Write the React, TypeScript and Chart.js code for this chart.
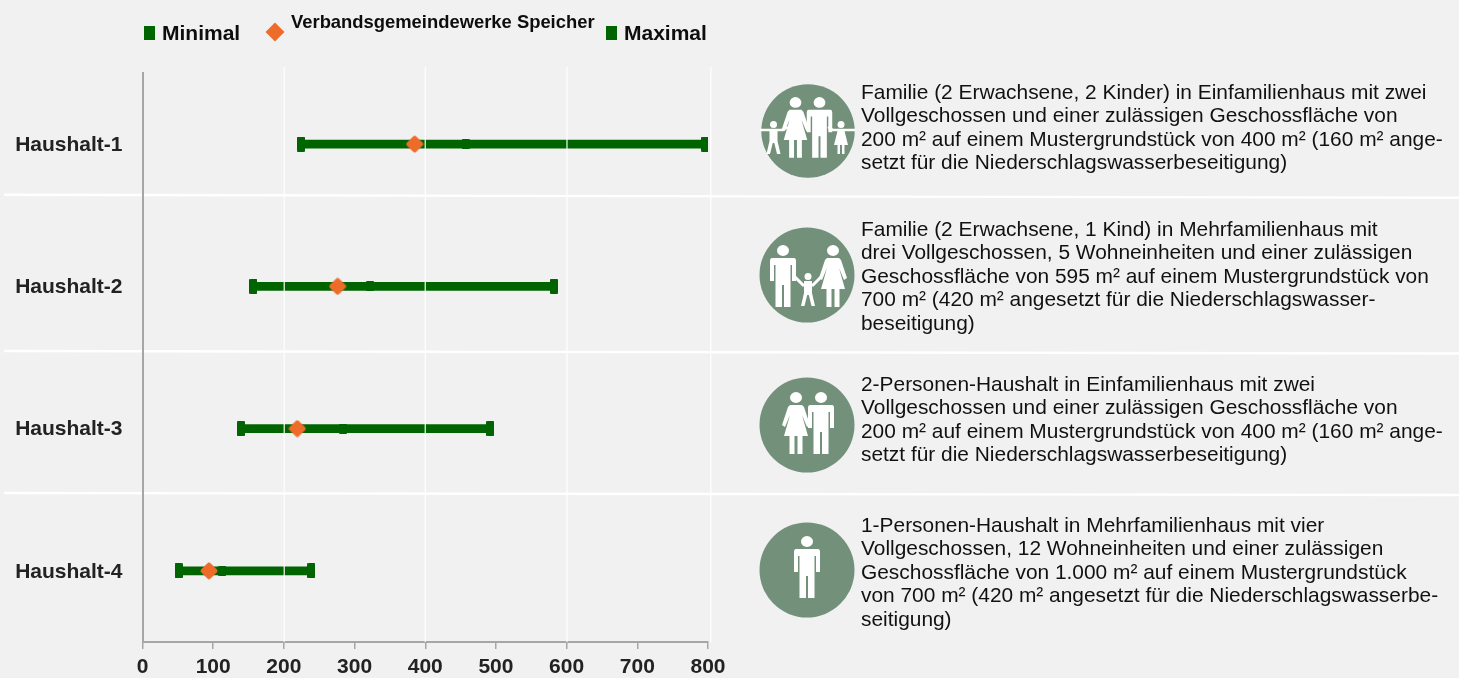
import React, { useEffect, useRef } from "react";
import { Chart, registerables } from "chart.js";

Chart.register(...registerables);

const categories = ["Haushalt-1", "Haushalt-2", "Haushalt-3", "Haushalt-4"];
const minimalValues = [224, 157, 139, 51];
const maximalValues = [796, 582, 492, 239];
const speicherValues = [385, 276, 219, 94];
const middleValues = [457, 322, 284, 113];
const gridLineValues = [200.5, 400, 600.5, 804];

const descriptions = [
  ["Familie (2 Erwachsene, 2 Kinder) in Einfamilienhaus mit zwei", "Vollgeschossen und einer zulässigen Geschossfläche von", "200 m² auf einem Mustergrundstück von 400 m² (160 m² ange-", "setzt für die Niederschlagswasserbeseitigung)"],
  ["Familie (2 Erwachsene, 1 Kind) in Mehrfamilienhaus mit", "drei Vollgeschossen, 5 Wohneinheiten und einer zulässigen", "Geschossfläche von 595 m² auf einem Mustergrundstück von", "700 m² (420 m² angesetzt für die Niederschlagswasser-", "beseitigung)"],
  ["2-Personen-Haushalt in Einfamilienhaus mit zwei", "Vollgeschossen und einer zulässigen Geschossfläche von", "200 m² auf einem Mustergrundstück von 400 m² (160 m² ange-", "setzt für die Niederschlagswasserbeseitigung)"],
  ["1-Personen-Haushalt in Mehrfamilienhaus mit vier", "Vollgeschossen, 12 Wohneinheiten und einer zulässigen", "Geschossfläche von 1.000 m² auf einem Mustergrundstück", "von 700 m² (420 m² angesetzt für die Niederschlagswasserbe-", "seitigung)"],
];
const descriptionTops = [80, 217, 372, 513];

const GREEN = "#006400";
const ORANGE = "#ee6c2a";
const BG = "#f1f1f1";
const ICON = "#72907a";
const FONT = '"Liberation Sans", Arial, sans-serif';

function marker(w: number, h: number) {
  const c = document.createElement("canvas");
  c.width = w;
  c.height = h;
  const g = c.getContext("2d")!;
  g.fillStyle = GREEN;
  g.beginPath();
  g.roundRect(0, 0, w, h, 1);
  g.fill();
  return c;
}

function roundDiamond() {
  const c = document.createElement("canvas");
  c.width = 18;
  c.height = 18;
  const g = c.getContext("2d")!;
  g.fillStyle = ORANGE;
  g.strokeStyle = ORANGE;
  g.lineWidth = 4;
  g.lineJoin = "round";
  g.beginPath();
  g.moveTo(9, 2.6);
  g.lineTo(15.4, 9);
  g.lineTo(9, 15.4);
  g.lineTo(2.6, 9);
  g.closePath();
  g.fill();
  g.stroke();
  return c;
}

const gridPlugin = {
  id: "shiftedGrid",
  afterDatasetDraw(chart: any, args: any) {
    if (args.index !== 0) return;
    const { ctx, chartArea, scales } = chart;
    ctx.save();
    ctx.strokeStyle = "rgba(255,255,255,0.9)";
    ctx.lineWidth = 1.3;
    gridLineValues.forEach((v) => {
      const x = scales.x.getPixelForValue(v);
      ctx.beginPath();
      ctx.moveTo(x, chartArea.top - 6);
      ctx.lineTo(x, chartArea.bottom);
      ctx.stroke();
    });
    ctx.restore();
  },
};

const Man = ({ x, y, s = 1 }: { x: number; y: number; s?: number }) => (
  <g transform={`translate(${x} ${y}) scale(${s})`} fill="#fff">
    <ellipse cx="0" cy="5.5" rx="6" ry="5.4" />
    <path d="M-11,13 L11,13 Q13,13 13,16 L13,36 L9,36 L9,20 L7.5,20 L7.5,62 L1,62 L1,40 L-1,40 L-1,62 L-7.5,62 L-7.5,20 L-9,20 L-9,36 L-13,36 L-13,16 Q-13,13 -11,13Z" />
  </g>
);
const Woman = ({ x, y, s = 1 }: { x: number; y: number; s?: number }) => (
  <g transform={`translate(${x} ${y}) scale(${s})`} fill="#fff">
    <ellipse cx="0" cy="5.5" rx="6" ry="5.4" />
    <path d="M-6,13 L6,13 L8,15 L14,33 L11,35 L6,23 L12,44 L6.5,44 L6.5,62 L1.5,62 L1.5,44 L-1.5,44 L-1.5,62 L-6.5,62 L-6.5,44 L-12,44 L-6,23 L-11,35 L-14,33 L-8,15Z" />
  </g>
);
const Child = ({ x, y }: { x: number; y: number }) => (
  <g transform={`translate(${x} ${y})`} fill="#fff">
    <circle cx="0" cy="3.5" r="3.5" />
    <path d="M-4,8 L4,8 L4,20 L7,33 L3.5,33 L0.8,22 L-0.8,22 L-3.5,33 L-7,33 L-4,20Z" />
  </g>
);
const Girl = ({ x, y }: { x: number; y: number }) => (
  <g transform={`translate(${x} ${y})`} fill="#fff">
    <circle cx="0" cy="3.5" r="3.5" />
    <path d="M-3,8 L3,8 L7,24 L3.5,24 L3.5,33 L1,33 L1,24 L-1,24 L-1,33 L-3.5,33 L-3.5,24 L-7,24 L-3,8Z" />
  </g>
);

const iconCenters = [
  [807.8, 130.5, 46.7],
  [806.5, 274.5, 47.5],
  [806.5, 425, 47.5],
  [807, 570, 47.5],
];
const iconFigures = [
  <>
    <Woman x={-12.5} y={-34} s={0.98} />
    <Man x={11.5} y={-34} s={0.98} />
    <Child x={-34.5} y={-10} />
    <Girl x={33} y={-10} />
    <path d="M-48,-1 H-25 L-20,-4 M47,-1 H25 L20,-4" stroke="#fff" strokeWidth="2.5" fill="none" />
  </>,
  <>
    <Man x={-24} y={-30} />
    <Woman x={26} y={-30} />
    <Child x={1} y={-2} />
    <path d="M-12,2 L-3,11 M14,2 L5,11" stroke="#fff" strokeWidth="3" fill="none" />
  </>,
  <>
    <Woman x={-11} y={-33} />
    <Man x={14} y={-33} />
  </>,
  <Man x={0} y={-34} />,
];

export default function App() {
  const ref = useRef<HTMLCanvasElement>(null);

  useEffect(() => {
    const big = marker(8, 15);
    const small = marker(8, 10);
    const diamond = roundDiamond();
    const chart = new Chart(ref.current!, {
      type: "bar",
      data: {
        labels: categories,
        datasets: [
          {
            type: "bar",
            label: "Spanne",
            data: minimalValues.map((v, i) => [v, maximalValues[i]]),
            backgroundColor: GREEN,
            barThickness: 8,
            order: 4,
          },
          {
            type: "line",
            label: "Mitte",
            data: middleValues,
            showLine: false,
            pointStyle: small,
            order: 3,
          },
          {
            type: "line",
            label: "Minimal",
            data: minimalValues,
            showLine: false,
            pointStyle: big,
            order: 2,
          },
          {
            type: "line",
            label: "Maximal",
            data: maximalValues,
            showLine: false,
            pointStyle: big,
            order: 2,
          },
          {
            type: "line",
            label: "Verbandsgemeindewerke Speicher",
            data: speicherValues,
            showLine: false,
            pointStyle: diamond,
            order: 1,
          },
        ] as any,
      },
      plugins: [gridPlugin],
      options: {
        indexAxis: "y",
        animation: false,
        responsive: false,
        layout: { padding: { top: 73, right: 751, left: 0, bottom: 0 } },
        plugins: { legend: { display: false }, tooltip: { enabled: false } },
        scales: {
          x: {
            min: 0,
            max: 800,
            afterFit: (s: any) => {
              s.height = 36;
            },
            ticks: {
              stepSize: 100,
              autoSkip: false,
              maxRotation: 0,
              color: "#222",
              padding: 6,
              font: { family: FONT, size: 21, weight: "bold" },
            },
            grid: {
              color: "transparent",
              tickColor: "#a6a6a6",
              tickLength: 7,
              lineWidth: 1.5,
            },
            border: { color: "#a6a6a6", width: 2 },
          },
          y: {
            afterFit: (s: any) => {
              s.width = 142.5;
            },
            ticks: {
              color: "#222",
              padding: 20,
              labelOffset: 1,
              font: { family: FONT, size: 21, weight: "bold" },
            },
            grid: { display: false, drawTicks: false },
            border: { color: "#a6a6a6", width: 2 },
          },
        },
      } as any,
    });
    return () => chart.destroy();
  }, []);

  const abs = (x: number, y: number): React.CSSProperties => ({ position: "absolute", left: x, top: y, whiteSpace: "nowrap" });
  const legendText: React.CSSProperties = { fontWeight: "bold", fontSize: 21, color: "#0d0d0d", lineHeight: "24px" };

  return (
    <div style={{ position: "fixed", left: 0, top: 0, width: 1459, height: 678, background: BG, fontFamily: FONT, overflow: "hidden" }}>
      <svg style={{ position: "absolute", left: 0, top: 0 }} width="1459" height="678">
        <path d="M4,194.8 L1459,197.8 M4,351 L1459,353.5 M4,493 L1459,495" stroke="#fff" strokeWidth="2.4" fill="none" />
      </svg>
      <canvas ref={ref} width={1459} height={678} style={{ position: "absolute", left: 0, top: 0, display: "block" }} />

      <div style={{ position: "absolute", left: 144, top: 26, width: 10.5, height: 14, background: GREEN }} />
      <div style={{ ...abs(162, 21), ...legendText }}>Minimal</div>
      <svg style={{ position: "absolute", left: 265, top: 22 }} width="20" height="20">
        <path d="M10,0.5 L19.5,10 L10,19.5 L0.5,10Z" fill={ORANGE} />
      </svg>
      <div style={{ ...abs(291, 12), fontWeight: "bold", fontSize: 18.4, color: "#0d0d0d", lineHeight: "20px" }}>Verbandsgemeindewerke Speicher</div>
      <div style={{ position: "absolute", left: 606, top: 26, width: 10.5, height: 14, background: GREEN }} />
      <div style={{ ...abs(624, 21), ...legendText }}>Maximal</div>

      {iconCenters.map(([cx, cy, r], i) => (
        <svg key={i} style={{ position: "absolute", left: cx - 50, top: cy - 50 }} width="100" height="100" viewBox="-50 -50 100 100">
          <circle cx="0" cy="0" r={r} fill={ICON} />
          {iconFigures[i]}
        </svg>
      ))}

      {descriptions.map((lines, i) => (
        <div key={i} style={{ ...abs(861, descriptionTops[i]), fontSize: 20.9, lineHeight: "23.4px", color: "#111" }}>
          {lines.map((l) => (
            <div key={l}>{l}</div>
          ))}
        </div>
      ))}
    </div>
  );
}
